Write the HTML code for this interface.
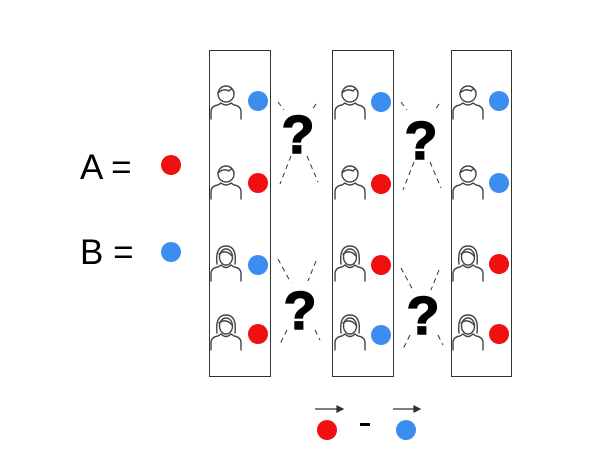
<!DOCTYPE html>
<html><head><style>body{margin:0;background:#fff}svg{display:block}</style></head><body>
<svg width="600" height="450" viewBox="0 0 600 450" xmlns="http://www.w3.org/2000/svg">
<defs>
<g id="man" fill="none" stroke="#444" stroke-width="1.4" stroke-linecap="round">
<circle cx="17" cy="10" r="8"/>
<path d="M9,9 Q14,4 20,7 Q23,3 25,8"/>
<path d="M2,35 V28 Q2,22 9,21 L12,19 Q17,23 22,19 L25,21 Q32,22 32,28 V35"/>
</g>
<g id="woman" fill="none" stroke="#444" stroke-width="1.4" stroke-linecap="round">
<path d="M8,20 Q6,2 17,2 Q28,2 26,20"/>
<ellipse cx="17" cy="13" rx="6.5" ry="8"/>
<path d="M10,10 Q17,5 23,12"/>
<path d="M2,37 V30 Q2,24 9,23 L12,21 Q17,26 22,21 L25,23 Q32,24 32,30 V37"/>
</g>
<g id="q">
<text x="0" y="0" font-family="Liberation Sans, sans-serif" font-weight="bold" font-size="54" text-anchor="middle" fill="#000" stroke="#000" stroke-width="1.5">?</text>
</g>
</defs>
<rect x="209.5" y="50.5" width="61" height="326" fill="none" stroke="#333"/>
<rect x="332.5" y="50.5" width="61" height="326" fill="none" stroke="#333"/>
<rect x="451.5" y="50.5" width="60" height="326" fill="none" stroke="#333"/>
<g>
<use href="#man" x="209" y="84"/><use href="#man" x="209" y="164"/>
<use href="#woman" x="209" y="244"/><use href="#woman" x="209" y="313"/>
<use href="#man" x="333" y="84"/><use href="#man" x="333" y="164"/>
<use href="#woman" x="333" y="244"/><use href="#woman" x="333" y="313"/>
<use href="#man" x="451" y="84"/><use href="#man" x="451" y="164"/>
<use href="#woman" x="451" y="244"/><use href="#woman" x="451" y="313"/>
</g>
<g>
<circle cx="258" cy="101" r="10" fill="#3b8ef0"/><circle cx="258" cy="183" r="10" fill="#f01010"/>
<circle cx="258" cy="265" r="10" fill="#3b8ef0"/><circle cx="258" cy="334" r="10" fill="#f01010"/>
<circle cx="381" cy="102" r="10" fill="#3b8ef0"/><circle cx="381" cy="184" r="10" fill="#f01010"/>
<circle cx="381" cy="265" r="10" fill="#f01010"/><circle cx="381" cy="335" r="10" fill="#3b8ef0"/>
<circle cx="499" cy="101" r="10" fill="#3b8ef0"/><circle cx="499" cy="183" r="10" fill="#3b8ef0"/>
<circle cx="499" cy="264" r="10" fill="#f01010"/><circle cx="499" cy="334" r="10" fill="#f01010"/>
</g>
<g stroke="#333" stroke-width="1" stroke-dasharray="5,4" fill="none">
<path d="M278,102 L284,110 M316,104 L312,110 M291,156 L280,184 M307,156 L318,182"/>
<path d="M401,102 L407,110 M439,104 L435,110 M414,162 L403,190 M430,162 L441,188"/>
<path d="M278,259 L291,283 M316,261 L308,281 M287,330 L280,344 M315,330 L320,340"/>
<path d="M401,268 L414,292 M439,270 L431,290 M410,335 L403,349 M438,335 L443,345"/>
</g>
<use href="#q" x="298" y="153"/>
<use href="#q" x="421" y="159"/>
<use href="#q" x="300" y="329"/>
<use href="#q" x="423" y="334"/>
<text x="80" y="179" font-family="Liberation Sans, sans-serif" font-size="35" fill="#000">A =</text>
<text x="80" y="264" font-family="Liberation Sans, sans-serif" font-size="35" fill="#000">B =</text>
<circle cx="171" cy="165" r="10" fill="#f01010"/>
<circle cx="171" cy="252" r="10" fill="#3b8ef0"/>
<circle cx="327" cy="430" r="10" fill="#f01010"/>
<circle cx="406" cy="430" r="10" fill="#3b8ef0"/>
<rect x="360" y="423" width="10" height="3" fill="#000"/>
<g stroke="#333" stroke-width="1.2" fill="#333">
<line x1="315" y1="409" x2="339" y2="409"/><path d="M343,409 L337,406 L337,412 Z"/>
<line x1="393" y1="409" x2="416" y2="409"/><path d="M420,409 L414,406 L414,412 Z"/>
</g>
</svg>
</body></html>
